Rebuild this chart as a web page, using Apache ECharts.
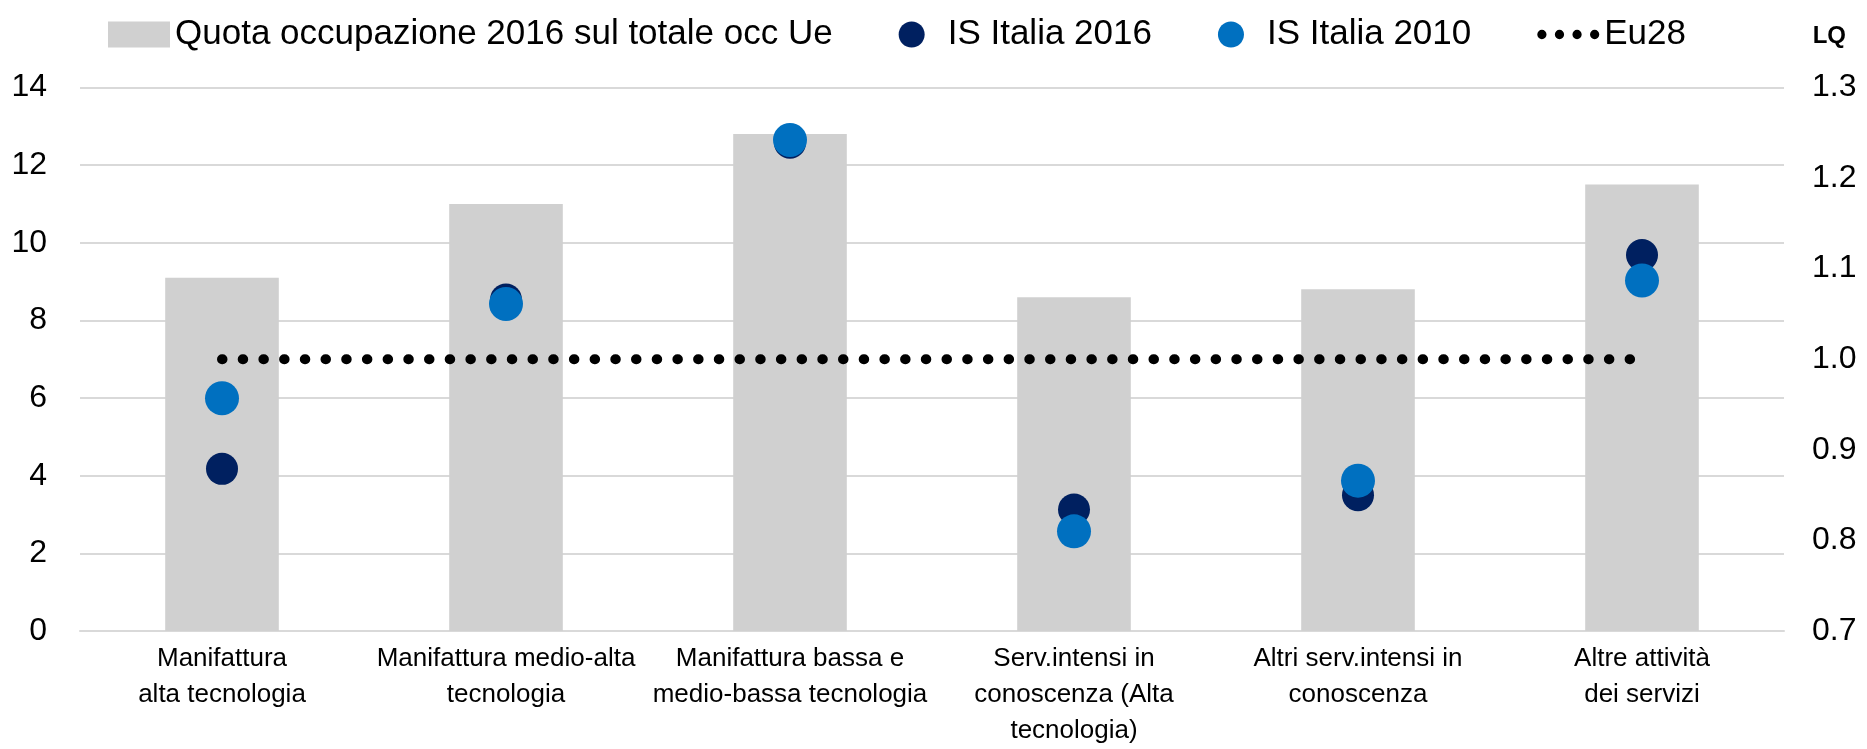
<!DOCTYPE html>
<html>
<head>
<meta charset="utf-8">
<script src="https://cdn.jsdelivr.net/npm/echarts@6/dist/echarts.min.js"></script>
<style>
  html, body { margin: 0; padding: 0; background: #fff; }
  #chart { width: 1867px; height: 749px; }
</style>
</head>
<body>
<div id="chart"></div>
<script>
// data
const categories = [
  'Manifattura\nalta tecnologia',
  'Manifattura medio-alta\ntecnologia',
  'Manifattura bassa e\nmedio-bassa tecnologia',
  'Serv.intensi in\nconoscenza (Alta\ntecnologia)',
  'Altri serv.intensi in\nconoscenza',
  'Altre attività\ndei servizi',
]
const quota2016 = [9.1, 11.0, 12.8, 8.6, 8.8, 11.5]
const isItalia2016 = [0.879, 1.066, 1.239, 0.834, 0.850, 1.115]
const isItalia2010 = [0.957, 1.061, 1.242, 0.810, 0.866, 1.087]
const eu28 = [1, 1, 1, 1, 1, 1]

const FONT = "'Liberation Sans', Arial, sans-serif"
const gridGray = '#d9d9d9'
// four round dots, used as the Eu28 legend icon
const dotsIcon = 'path://M0,5a5,5 0 1,0 10,0a5,5 0 1,0 -10,0Z' +
  'M19,5a5,5 0 1,0 10,0a5,5 0 1,0 -10,0Z' +
  'M38,5a5,5 0 1,0 10,0a5,5 0 1,0 -10,0Z' +
  'M57,5a5,5 0 1,0 10,0a5,5 0 1,0 -10,0Z'

const chart = echarts.init(document.getElementById('chart'))
chart.setOption({
  animation: false,
  backgroundColor: '#fff',
  textStyle: { fontFamily: FONT, color: '#000' },
  title: {
    text: 'LQ',
    right: 16,
    top: 19,
    textStyle: { fontFamily: FONT, fontSize: 24, fontWeight: 'bold', color: '#000' },
  },
  legend: {
    left: 103,
    top: 12,
    itemWidth: 62,
    itemHeight: 26,
    itemGap: 66,
    itemStyle: { borderWidth: 0 },
    textStyle: { fontFamily: FONT, fontSize: 35, color: '#000' },
    data: [
      { name: 'Quota occupazione 2016 sul totale occ Ue', icon: 'rect' },
      { name: 'IS Italia 2016', icon: 'circle' },
      { name: 'IS Italia 2010', icon: 'circle' },
      { name: 'Eu28', icon: dotsIcon },
    ],
  },
  grid: { left: 80, right: 83, top: 87.5, bottom: 118 },
  xAxis: {
    type: 'category',
    data: categories,
    axisLine: { lineStyle: { color: gridGray, width: 2 } },
    axisTick: { show: false },
    axisLabel: { fontFamily: FONT, fontSize: 26, lineHeight: 36, color: '#000', margin: 10, interval: 0 },
  },
  yAxis: [
    {
      type: 'value',
      min: 0,
      max: 14,
      interval: 2,
      axisLine: { show: false },
      axisTick: { show: false },
      splitLine: { lineStyle: { color: gridGray, width: 2 } },
      axisLabel: { fontFamily: FONT, fontSize: 32, color: '#000', margin: 33 },
    },
    {
      type: 'value',
      position: 'right',
      min: 0.7,
      max: 1.3,
      interval: 0.1,
      axisLine: { show: false },
      axisTick: { show: false },
      splitLine: { show: false },
      axisLabel: {
        fontFamily: FONT, fontSize: 32, color: '#000', margin: 28,
        formatter: v => v.toFixed(1),
      },
    },
  ],
  series: [
    {
      name: 'Quota occupazione 2016 sul totale occ Ue',
      type: 'bar',
      yAxisIndex: 0,
      barWidth: '40%',
      itemStyle: { color: '#d0d0d0' },
      data: quota2016,
    },
    {
      name: 'Eu28',
      type: 'line',
      yAxisIndex: 1,
      showSymbol: false,
      symbol: 'none',
      itemStyle: { color: '#000' },
      lineStyle: { color: '#000', width: 10, type: [0.5, 20.2], cap: 'round' },
      data: eu28,
    },
    {
      name: 'IS Italia 2016',
      type: 'scatter',
      yAxisIndex: 1,
      symbolSize: 32,
      itemStyle: { color: '#002060', opacity: 1 },
      data: isItalia2016,
    },
    {
      name: 'IS Italia 2010',
      type: 'scatter',
      yAxisIndex: 1,
      symbolSize: 34,
      itemStyle: { color: '#0070c0', opacity: 1 },
      data: isItalia2010,
    },
  ],
})
</script>
</body>
</html>
